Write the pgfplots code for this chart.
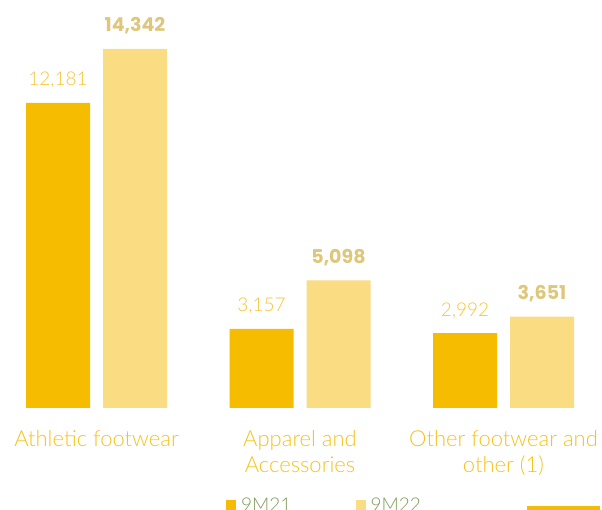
\documentclass[border=0pt]{standalone}
\usepackage{pgfplots}
\pgfplotsset{compat=1.18}
\usepackage{fontspec}
\IfFontExistsTF{Lato Light}{\setmainfont{Lato Light}}{\setmainfont{Lato}}
\newfontfamily\boldfont{Poppins}
\definecolor{barA}{HTML}{F5BC00}
\definecolor{barB}{HTML}{FADC82}
\definecolor{lblA}{HTML}{F6C435}
\definecolor{lblB}{HTML}{DEC77A}
\definecolor{catcol}{HTML}{F6C21A}
\definecolor{legcol}{HTML}{7E9C5A}
\begin{document}
\begin{tikzpicture}
\useasboundingbox (0,-102pt) rectangle (602pt,408pt);
\begin{axis}[
  at={(0,0)}, anchor=south west,
  scale only axis, width=602pt, height=408pt,
  xmin=-0.4742, xmax=2.484, ymin=0, ymax=16294,
  axis line style={draw=none}, major tick length=0pt,
  ytick=\empty,
  xtick={0,1,2},
  xticklabels={Athletic footwear, {Apparel and\\Accessories}, {Other footwear and\\other (1)}},
  xticklabel style={align=center, font=\fontsize{22}{26}\selectfont, text=catcol, anchor=north, inner sep=0pt, yshift=-22pt},
  /pgf/number format/.cd, 1000 sep={,}, assume math mode=true, /pgfplots/.cd,
  legend style={draw=none, fill=none, legend columns=2, at={(0.3754,-0.2378)}, anchor=west,
    inner sep=0pt, font=\fontsize{19}{23}\selectfont, text=legcol,
    /tikz/every odd column/.append style={column sep=3pt},
    /tikz/every even column/.append style={column sep=62pt}},
  legend image code/.code={\fill[#1] (0pt,-5pt) rectangle (10pt,5pt);},
  clip=false,
]
\addplot[ybar, bar width=64pt, bar shift=-38.5pt, fill=barA, draw=none,
  nodes near coords,
  every node near coord/.append style={font=\fontsize{19}{23}\selectfont, text=lblA, anchor=base, inner sep=0pt, xshift=-38.5pt, yshift=17pt}]
  coordinates {(0,12181) (1,3157) (2,2992)};
\addlegendentry{9M21}
\addplot[ybar, bar width=64pt, bar shift=38.5pt, fill=barB, draw=none,
  nodes near coords,
  every node near coord/.append style={font=\boldfont\bfseries\fontsize{19}{22}\selectfont, text=lblB, anchor=base, inner sep=0pt, xshift=38.5pt, yshift=17pt}]
  coordinates {(0,14342) (1,5098) (2,3651)};
\addlegendentry{9M22}
\end{axis}
\fill[barA] (527pt,-98pt) rectangle (600pt,-103pt);
\end{tikzpicture}
\end{document}
